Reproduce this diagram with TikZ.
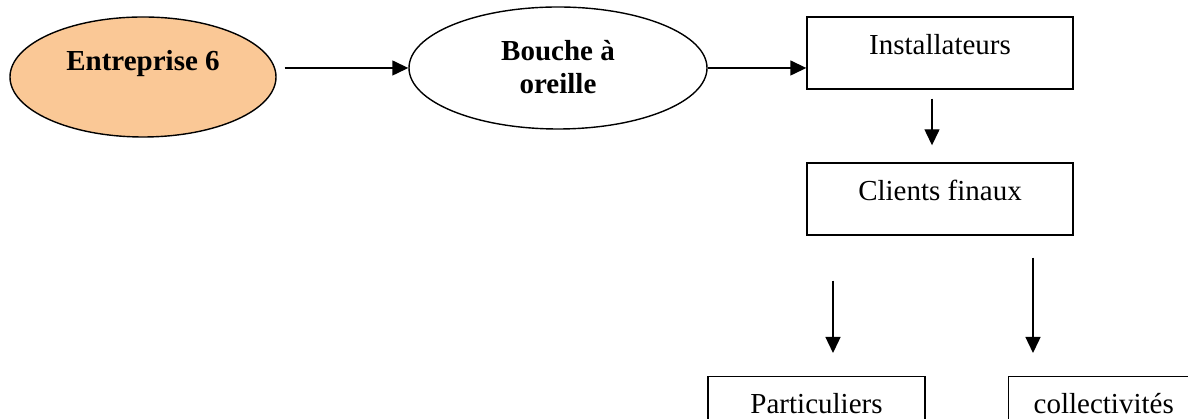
\documentclass[tikz,border=0pt]{standalone}
\usepackage{fontspec}
\setmainfont{Liberation Serif}
\usepackage{xcolor}
\usetikzlibrary{shapes,arrows.meta,positioning}
\definecolor{firmcolor}{RGB}{250,200,150}

\begin{document}
\begin{tikzpicture}[
    x=1pt, y=1pt,
    font=\fontsize{29}{33}\selectfont,
    oval/.style={ellipse, draw, line width=1.4pt, inner sep=0pt, align=center, font=\fontsize{29}{33}\selectfont\bfseries},
    box/.style={rectangle, draw, line width=1.4pt, minimum height=72pt, inner sep=0pt, text height=0.7em, text depth=0.45em},
    arrow/.style={-{Triangle[length=16pt,width=15pt]}, line width=1.4pt}
]
\useasboundingbox (0,0) rectangle (1188,419);

\node[oval, fill=firmcolor, minimum width=266pt, minimum height=120pt] (ent) at (143,342) {Entreprise 6\\~};
\node[oval, minimum width=298pt, minimum height=122pt, text depth=0.3em] (bouche) at (558,351) {Bouche à\\oreille};
\node[box, minimum width=266pt] (inst) at (940,366) {Installateurs};
\node[box, minimum width=266pt] (clients) at (940,220) {Clients finaux};
\node[box, minimum width=217pt, anchor=north] (part) at (816.5,43) {Particuliers};
\node[box, minimum width=190pt, anchor=north west] (coll) at (1008,43) {collectivités};

\draw[arrow, shorten <=8pt] (ent.east |- bouche.west) -- (bouche.west);
\draw[arrow] (bouche.east) -- (bouche.east -| inst.west);
\draw[arrow, shorten <=9pt, shorten >=17pt] ([xshift=-8pt]inst.south) -- ([xshift=-8pt]clients.north);
\draw[arrow, shorten <=45pt, shorten >=23pt] ([xshift=-107pt]clients.south) -- ([xshift=-107pt]clients.south |- part.north);
\draw[arrow, shorten <=22pt, shorten >=23pt] ([xshift=93pt]clients.south) -- ([xshift=93pt]clients.south |- coll.north);
\end{tikzpicture}
\end{document}
